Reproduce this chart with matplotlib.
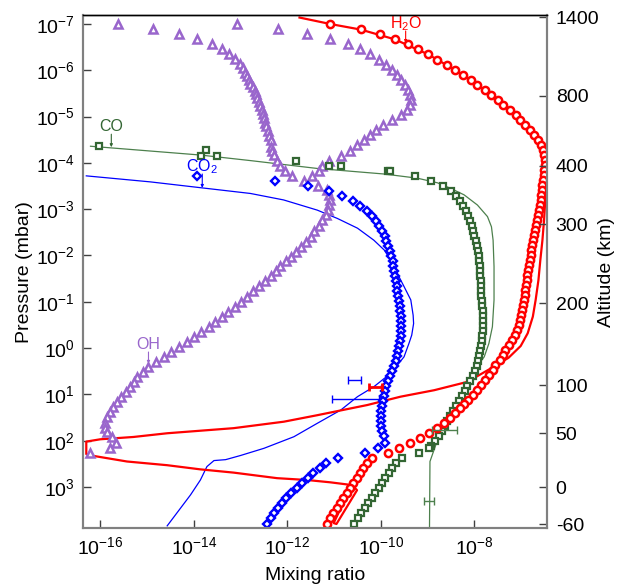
import numpy as np
import matplotlib
matplotlib.use("Agg")
import matplotlib.pyplot as plt
from matplotlib.ticker import FixedLocator, NullLocator

plt.rcParams['font.family'] = ['Liberation Sans', 'DejaVu Sans']
plt.rcParams['mathtext.fontset'] = 'custom'
plt.rcParams['mathtext.rm'] = 'Liberation Sans'
plt.rcParams['mathtext.it'] = 'Liberation Sans:italic'
plt.rcParams['mathtext.default'] = 'regular'

# all values are log10(pressure in mbar) and log10(mixing ratio)
# --- OH (two branches of triangles)
oh_a_logp = [-7.00, -6.885, -6.78, -6.67, -6.56, -6.455, -6.35, -6.24, -6.13, -6.04,
             -5.95, -5.88, -5.79, -5.70, -5.63, -5.56, -5.48, -5.41, -5.32, -5.23,
             -5.14, -5.06, -4.96, -4.87, -4.79, -4.68, -4.58, -4.50, -4.35, -4.26,
             -4.17, -4.05, -3.94, -3.83, -3.72, -3.61, -3.51, -3.41, -3.31, -3.20,
             -3.09, -2.98, -2.87, -2.77, -2.64, -2.53, -2.41, -2.30, -2.19, -2.08,
             -1.97, -1.88, -1.77, -1.66, -1.55, -1.45, -1.34, -1.23, -1.11, -1.00,
             -0.89, -0.79, -0.68, -0.57, -0.46, -0.35, -0.245, -0.14, -0.03, 0.08,
             0.19, 0.29, 0.40, 0.51, 0.62, 0.73, 0.83, 0.94, 1.06, 1.17,
             1.28, 1.39, 1.49, 1.61, 1.72, 1.82, 1.93, 2.04, 2.15, 2.26]
oh_a_logx = [-15.63, -14.87, -14.32, -13.93, -13.62, -13.40, -13.245, -13.11, -13.02, -12.95,
             -12.91, -12.86, -12.825, -12.79, -12.745, -12.70, -12.675, -12.645, -12.61, -12.575,
             -12.54, -12.52, -12.49, -12.47, -12.45, -12.42, -12.39, -12.36, -12.35, -12.32,
             -12.29, -12.22, -12.15, -12.055, -11.90, -11.65, -11.34, -11.15, -11.10, -11.08,
             -11.10, -11.13, -11.18, -11.25, -11.33, -11.42, -11.50, -11.61, -11.70, -11.81,
             -11.92, -12.02, -12.15, -12.25, -12.36, -12.48, -12.61, -12.73, -12.86, -12.99,
             -13.125, -13.26, -13.40, -13.54, -13.68, -13.84, -13.99, -14.14, -14.31, -14.48,
             -14.645, -14.805, -14.97, -15.095, -15.21, -15.29, -15.37, -15.46, -15.55, -15.64,
             -15.73, -15.80, -15.86, -15.90, -15.91, -15.86, -15.74, -15.66, -15.79, -16.21]
oh_b_logp = [-7.00, -6.885, -6.78, -6.67, -6.56, -6.455, -6.345, -6.23, -6.12, -6.01,
             -5.90, -5.79, -5.68, -5.57, -5.47, -5.36, -5.25, -5.14, -5.03, -4.93,
             -4.82, -4.71, -4.60, -4.49, -4.39, -4.26, -4.155, -4.05, -3.94, -3.83, -3.72]
oh_b_logx = [-13.07, -12.20, -11.57, -11.09, -10.71, -10.45, -10.23, -10.04, -9.88, -9.77,
             -9.66, -9.57, -9.485, -9.43, -9.385, -9.36, -9.385, -9.44, -9.58, -9.76,
             -9.95, -10.11, -10.24, -10.37, -10.50, -10.65, -10.86, -11.11, -11.25, -11.33, -11.47]

# --- CO squares and model line
co_logp = [-4.37, -4.27, -4.155, -4.155, -4.05, -3.94, -3.94, -3.83, -3.83, -3.72,
           -3.615, -3.51, -3.40, -3.29, -3.18, -3.075, -2.97, -2.85, -2.745, -2.64,
           -2.53, -2.42, -2.31, -2.205, -2.10, -1.99, -1.88, -1.77, -1.665, -1.56,
           -1.45, -1.34, -1.23, -1.125, -1.02, -0.91, -0.80, -0.69, -0.585, -0.48,
           -0.37, -0.26, -0.15, -0.045, 0.065, 0.17, 0.28, 0.39, 0.495, 0.60,
           0.71, 0.82, 0.93, 1.035, 1.14, 1.25, 1.36, 1.465, 1.575, 1.68,
           1.79, 1.90, 2.01, 2.115, 2.165, 2.27, 2.38, 2.48, 2.59, 2.70,
           2.81, 2.91, 3.02, 3.13, 3.24, 3.35, 3.45, 3.56, 3.68, 3.79]
co_logx = [-16.03, -13.74, -13.85, -13.50, -11.81, -11.10, -10.85, -9.855, -9.81, -9.28,
           -8.935, -8.68, -8.51, -8.40, -8.31, -8.24, -8.185, -8.135, -8.09, -8.06,
           -8.03, -8.00, -7.97, -7.95, -7.93, -7.91, -7.90, -7.885, -7.88, -7.87,
           -7.865, -7.86, -7.85, -7.85, -7.84, -7.83, -7.82, -7.815, -7.815, -7.815,
           -7.82, -7.83, -7.84, -7.85, -7.87, -7.90, -7.92, -7.95, -7.99, -8.04,
           -8.09, -8.15, -8.20, -8.26, -8.32, -8.39, -8.46, -8.52, -8.58, -8.635,
           -8.69, -8.75, -8.84, -8.935, -8.97, -9.18, -9.54, -9.68, -9.76, -9.83,
           -9.905, -9.98, -10.05, -10.12, -10.19, -10.27, -10.34, -10.42, -10.49, -10.58]
co_mod_logp = [-4.36, -4.17, -4.05, -3.88, -3.76, -3.67, -3.57, -3.45, -3.31, -3.09,
               -2.84, -2.62, -2.33, -1.76, -1.04, -0.46, -0.10, 0.19, 0.47, 0.73,
               1.01, 1.34, 1.66, 1.99, 2.45, 3.86]
co_mod_logx = [-16.21, -13.86, -12.79, -11.36, -9.93, -9.22, -8.79, -8.51, -8.22, -7.935,
               -7.72, -7.635, -7.60, -7.58, -7.58, -7.615, -7.69, -7.79, -8.01, -8.15,
               -8.31, -8.485, -8.66, -8.79, -8.95, -8.96]

# --- CO2 diamonds and model line
co2_logp = [-3.72, -3.61, -3.50, -3.40, -3.29, -3.18, -3.075, -2.97, -2.85, -2.745,
            -2.64, -2.53, -2.42, -2.31, -2.205, -2.10, -1.99, -1.88, -1.77, -1.665,
            -1.56, -1.45, -1.34, -1.23, -1.125, -1.02, -0.91, -0.80, -0.69, -0.585,
            -0.48, -0.37, -0.26, -0.15, -0.045, 0.065, 0.17, 0.28, 0.39, 0.495,
            0.60, 0.71, 0.82, 0.93, 1.035, 1.14, 1.25, 1.36, 1.465, 1.575,
            1.68, 1.79, 1.90, 2.06, 2.165, 2.27, 2.38, 2.49, 2.60, 2.705,
            2.81, 2.92, 3.03, 3.14, 3.245, 3.35, 3.46, 3.57, 3.68, 3.80]
co2_logx = [-13.94, -12.27, -11.555, -11.10, -10.83, -10.605, -10.45, -10.305, -10.20, -10.10,
            -10.03, -9.97, -9.92, -9.88, -9.84, -9.81, -9.78, -9.75, -9.73, -9.71,
            -9.69, -9.68, -9.66, -9.645, -9.63, -9.615, -9.60, -9.59, -9.58, -9.57,
            -9.565, -9.56, -9.57, -9.585, -9.605, -9.63, -9.655, -9.68, -9.72, -9.76,
            -9.80, -9.84, -9.88, -9.905, -9.93, -9.95, -9.975, -9.99, -10.00, -10.005,
            -9.995, -9.97, -9.94, -9.92, -10.06, -10.33, -10.91, -11.17, -11.31, -11.45,
            -11.56, -11.68, -11.80, -11.92, -12.02, -12.12, -12.205, -12.29, -12.36, -12.43]
co2_mod_logp = [-3.72, -3.59, -3.46, -3.34, -3.20, -2.98, -2.80, -2.59, -2.33, -2.12,
                -1.90, -1.615, -1.33, -1.04, -0.71, -0.53, -0.28, -0.10, 0.19, 0.545,
                0.835, 1.05, 1.34, 1.625, 1.915, 2.165, 2.32, 2.41, 2.43, 2.56,
                2.85, 3.17, 3.84]
co2_mod_logx = [-16.30, -14.93, -13.82, -12.79, -12.08, -11.36, -10.93, -10.50, -10.15, -9.93,
                -9.79, -9.65, -9.505, -9.36, -9.31, -9.30, -9.34, -9.40, -9.505, -9.79,
                -10.15, -10.50, -10.86, -11.36, -11.86, -12.50, -13.00, -13.32, -13.57, -13.72,
                -13.86, -14.07, -14.57]

# --- H2O circles and model line
h2o_logp = [-6.995, -6.885, -6.78, -6.67, -6.56, -6.455, -6.345, -6.23, -6.11, -6.005,
            -5.90, -5.79, -5.68, -5.57, -5.47, -5.36, -5.25, -5.14, -5.03, -4.93,
            -4.82, -4.71, -4.60, -4.49, -4.39, -4.28, -4.17, -4.06, -3.95, -3.85,
            -3.74, -3.63, -3.52, -3.41, -3.31, -3.20, -3.09, -2.98, -2.87, -2.77,
            -2.66, -2.55, -2.44, -2.33, -2.23, -2.12, -2.01, -1.90, -1.79, -1.69,
            -1.58, -1.47, -1.36, -1.25, -1.15, -1.04, -0.93, -0.82, -0.71, -0.61,
            -0.50, -0.39, -0.28, -0.17, -0.07, 0.04, 0.15, 0.26, 0.37, 0.47,
            0.58, 0.69, 0.80, 0.91, 1.01, 1.12, 1.21, 1.30, 1.41, 1.52,
            1.625, 1.72, 1.83, 1.94, 2.045, 2.15, 2.27, 2.38, 2.49, 2.60,
            2.705, 2.81, 2.92, 3.03, 3.14, 3.245, 3.35, 3.46, 3.57, 3.68, 3.80]
h2o_logx = [-11.08, -10.43, -10.02, -9.705, -9.43, -9.20, -8.99, -8.79, -8.59, -8.41,
            -8.245, -8.08, -7.935, -7.78, -7.645, -7.50, -7.38, -7.24, -7.12, -7.02,
            -6.915, -6.82, -6.725, -6.65, -6.585, -6.535, -6.51, -6.49, -6.485, -6.51,
            -6.52, -6.535, -6.545, -6.555, -6.57, -6.58, -6.60, -6.62, -6.645, -6.665,
            -6.685, -6.71, -6.73, -6.745, -6.765, -6.78, -6.80, -6.815, -6.84, -6.855,
            -6.87, -6.885, -6.90, -6.91, -6.925, -6.94, -6.955, -6.975, -7.00, -7.02,
            -7.05, -7.09, -7.14, -7.20, -7.26, -7.35, -7.395, -7.45, -7.555, -7.61,
            -7.68, -7.78, -7.865, -7.95, -8.035, -8.13, -8.23, -8.31, -8.42, -8.53,
            -8.66, -8.81, -8.98, -9.16, -9.385, -9.61, -9.84, -10.18, -10.305, -10.375,
            -10.45, -10.52, -10.59, -10.66, -10.73, -10.80, -10.875, -10.945, -11.02, -11.09, -11.16]
h2o_mod_logp = [-7.14, -7.00, -6.88, -6.67, -6.345, -6.005, -5.68, -5.36, -5.03, -4.71,
                -4.45, -4.24, -4.02, -3.74, -3.41, -3.09, -2.77, -2.33, -1.90, -1.47,
                -1.04, -0.68, -0.32, -0.045, 0.21, 0.44, 0.73, 0.91, 1.05, 1.23,
                1.45, 1.59, 1.73, 1.84, 1.92, 1.97, 2.02, 2.29, 2.33, 2.45,
                2.53, 2.62, 2.69, 2.81, 2.85, 2.90, 2.96, 3.07, 3.80, 3.78, 3.02]
h2o_mod_logx = [-11.74, -11.08, -10.43, -9.705, -8.99, -8.41, -7.935, -7.50, -7.12, -6.82,
                -6.63, -6.525, -6.47, -6.46, -6.47, -6.49, -6.51, -6.545, -6.59, -6.63,
                -6.69, -6.75, -6.86, -7.01, -7.27, -7.65, -8.15, -8.86, -9.58, -10.29,
                -11.36, -12.075, -13.15, -14.57, -15.29, -16.00, -16.30, -16.30, -16.14, -15.43,
                -14.57, -13.86, -13.15, -12.22, -11.575, -11.08, -10.61, -10.51, -10.95, -11.01, -10.65]

# --- measurement error bars (log p, log x low, log x high)
err_logp = [0.83, 0.69, 1.10, 1.77, 3.30]
err_lo = [-10.26, -10.70, -11.055, -8.90, -9.08]
err_hi = [-9.985, -10.43, -10.03, -8.365, -8.865]
err_col = ['#ff0000', '#0000ff', '#0000ff', '#4d804d', '#4d804d']
err_lw = [2.0, 1.0, 1.0, 1.0, 1.0]

# right axis: altitude (km) at pressure levels
alt_labels = ['1400', '800', '400', '300', '200', '100', '50', '0', '-60']
alt_logp = [-7.145, -5.45, -3.94, -2.68, -0.967, 0.80, 1.84, 3.007, 3.806]

RED = '#ff0000'
BLUE = '#0000ff'
GREEN = '#336633'
GREEN_L = '#4d804d'
PURPLE = '#9966cc'


def p(v):
    return 10.0 ** np.asarray(v)


fig = plt.figure(figsize=(6.2, 5.87), dpi=100)
ax = fig.add_axes([0.1339, 0.100, 0.7489, 0.8739])

# model curves
ax.plot(p(co_mod_logx), p(co_mod_logp), color=GREEN_L, lw=0.9, zorder=2)
ax.plot(p(co2_mod_logx), p(co2_mod_logp), color=BLUE, lw=0.9, zorder=2)
ax.plot(p(h2o_mod_logx), p(h2o_mod_logp), color=RED, lw=1.6, zorder=2)

# profiles (markers)
ms_kw = dict(ls='none', markerfacecolor='white', zorder=3)
ax.plot(p(oh_a_logx), p(oh_a_logp), marker='^', ms=5.5, mew=1.8, markeredgecolor=PURPLE, **ms_kw)
ax.plot(p(oh_b_logx), p(oh_b_logp), marker='^', ms=5.5, mew=1.8, markeredgecolor=PURPLE, **ms_kw)
ax.plot(p(co_logx), p(co_logp), marker='s', ms=5, mew=1.6, markeredgecolor=GREEN, **ms_kw)
ax.plot(p(co2_logx), p(co2_logp), marker='D', ms=3.6, mew=1.7, markeredgecolor=BLUE, **ms_kw)
ax.plot(p(h2o_logx), p(h2o_logp), marker='o', ms=5.2, mew=1.8, markeredgecolor=RED, **ms_kw)

# error bars
for lp_, lo, hi, c, lw in zip(err_logp, err_lo, err_hi, err_col, err_lw):
    xc = 10 ** ((lo + hi) / 2)
    ax.errorbar([xc], [10 ** lp_], xerr=[[xc - 10 ** lo], [10 ** hi - xc]], fmt='none',
                ecolor=c, elinewidth=lw, capsize=3, capthick=lw, zorder=4)

# species labels with pointers
labels = [('CO', -15.765, -4.78, -4.62, -4.34, GREEN),
          ('CO$_2$', -13.82, -3.92, -3.76, -3.46, BLUE),
          ('H$_2$O', -9.47, -7.015, -6.85, -6.59, RED),
          ('OH', -14.97, -0.07, 0.085, 0.34, PURPLE)]
for txt, lx, lpt, lp0, lp1, c in labels:
    ax.text(10 ** lx, 10 ** lpt, txt, color=c, fontsize=11.5, ha='center', va='center', zorder=5)
    ax.annotate('', xy=(10 ** lx, 10 ** lp1), xytext=(10 ** lx, 10 ** lp0),
                arrowprops=dict(arrowstyle='-|>', color=c, lw=0.8, mutation_scale=4,
                                shrinkA=0, shrinkB=0), zorder=5)

ax.set_xscale('log')
ax.set_yscale('log')
ax.set_xlim(10 ** -16.37, 10 ** -6.44)
ax.set_ylim(10 ** 3.893, 10 ** -7.188)
ax.xaxis.set_major_locator(FixedLocator([1e-16, 1e-14, 1e-12, 1e-10, 1e-8]))
ax.yaxis.set_major_locator(FixedLocator([10.0 ** k for k in range(-7, 4)]))
ax.xaxis.set_minor_locator(NullLocator())
ax.yaxis.set_minor_locator(NullLocator())
ax.tick_params(direction='in', length=6, width=1, labelsize=14, color='#404040', pad=6)
ax.set_xlabel('Mixing ratio', fontsize=14, labelpad=6)
ax.set_ylabel('Pressure (mbar)', fontsize=14, labelpad=2)

ax2 = ax.twinx()
ax2.set_yscale('log')
ax2.set_ylim(ax.get_ylim())
ax2.yaxis.set_major_locator(FixedLocator(list(p(alt_logp))))
ax2.yaxis.set_minor_locator(NullLocator())
ax2.set_yticklabels(alt_labels)
ax2.tick_params(direction='in', length=6, width=1, labelsize=14, color='#404040', pad=6)
ax2.set_ylabel('Altitude (km)', fontsize=14, labelpad=-1)

for a in (ax, ax2):
    for side in ('left', 'bottom', 'right'):
        a.spines[side].set_color('#808080')
        a.spines[side].set_linewidth(1.5)
    a.spines['top'].set_color('black')
    a.spines['top'].set_linewidth(1.0)

fig.savefig('out.png', dpi=100)
